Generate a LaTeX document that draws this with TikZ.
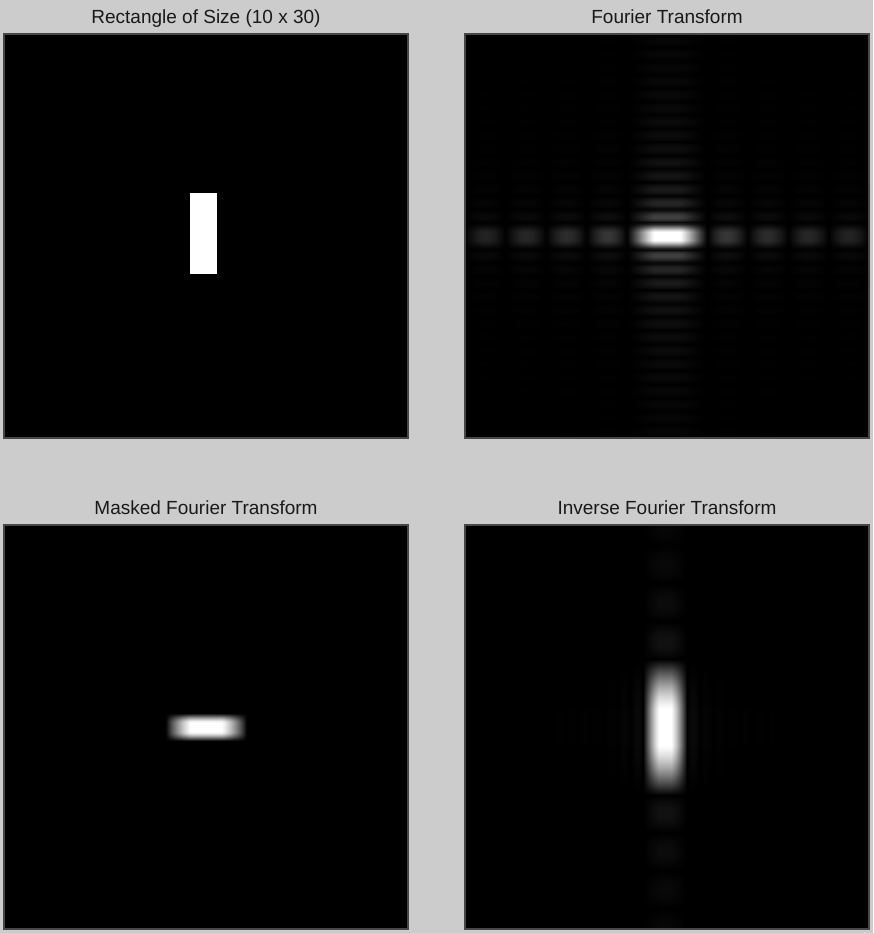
\documentclass[tikz,border=0pt]{standalone}
\usepackage{fontspec}
\setmainfont{Liberation Sans}
\usetikzlibrary{positioning}

\definecolor{figgray}{RGB}{204,204,204}

% brightness profiles along one axis (offset in px from the panel centre)
\tikzset{declare function={
  ftxa(\x)=(\x<1)*min(1,1.2*sin(180*\x)/(pi*\x))+(\x>=1)*abs(sin(180*\x))*0.21*pow(1.5/max(\x,1),0.4);
  ftx(\x)=ftxa(abs(\x)/40.4+0.0001);
  ftya(\x)=(\x<1)*min(1,1.2*sin(180*\x)/(pi*\x))+(\x>=1)*abs(sin(180*\x))*0.25*pow(1.5/max(\x,1),1.05);
  fty(\x)=ftya(abs(\x)/13.47+0.0001);
  mska(\x)=(\x<1)*min(1,1.2*pow(cos(90*min(\x,0.999)),0.9));
  mskx(\x)=mska(abs(\x)/40.4);
  msky(\x)=mska(abs(\x)/13.5);
  invxa(\x)=(\x<22)*min(1,1.1*cos(90*min(\x/22,0.999)))+(\x>=22)*0.055*abs(sin(180/13*(\x-22)))*pow(22/max(\x,22),2);
  invx(\x)=invxa(abs(\x+2));
  invya(\x)=(\x<68)*min(1,1.1*cos(90*min(\x/68,0.999)))+(\x>=68)*0.09*abs(sin(180/38*(\x-68)))*pow(68/max(\x,68),1.2);
  invy(\x)=invya(abs(\x));
}}

% colour stops of a 404px profile, mapped to 25bp..75bp of a 100bp shading
\newcommand\buildprofile[2]{%
  \pgfmathsetmacro\gval{100*#2(-202)}%
  \xdef#1{color(0bp)=(white!\gval!black)}%
  \foreach \k in {0,...,202}{%
    \pgfmathsetmacro\off{2*\k-202}%
    \pgfmathsetmacro\gval{100*#2(\off)}%
    \pgfmathsetmacro\stoppos{25+50*\k/202}%
    \xdef#1{#1; color(\stoppos bp)=(white!\gval!black)}%
  }%
  \pgfmathsetmacro\gval{100*#2(202)}%
  \xdef#1{#1; color(100bp)=(white!\gval!black)}%
}

\buildprofile\specftx{ftx}
\buildprofile\specfty{fty}
\buildprofile\specmskx{mskx}
\buildprofile\specmsky{msky}
\buildprofile\specinvx{invx}
\buildprofile\specinvy{invy}

\edef\tmp{\noexpand\pgfdeclarehorizontalshading{ftcols}{100bp}{\specftx}}\tmp
\edef\tmp{\noexpand\pgfdeclareverticalshading{ftrows}{100bp}{\specfty}}\tmp
\edef\tmp{\noexpand\pgfdeclarehorizontalshading{maskcols}{100bp}{\specmskx}}\tmp
\edef\tmp{\noexpand\pgfdeclareverticalshading{maskrows}{100bp}{\specmsky}}\tmp
\edef\tmp{\noexpand\pgfdeclarehorizontalshading{invcols}{100bp}{\specinvx}}\tmp
\edef\tmp{\noexpand\pgfdeclareverticalshading{invrows}{100bp}{\specinvy}}\tmp

\begin{document}
\begin{tikzpicture}[x=1pt,y=-1pt,
  panel/.style={fill=black,minimum size=404pt,inner sep=0pt,outer sep=0pt},
  frame/.style={draw=black!72,line width=1.1pt},
  title/.style={font=\fontsize{19}{22}\selectfont,text=black!90,inner sep=0pt,text depth=0.25em}]
  \fill[figgray] (0,0) rectangle (873,933);
  \useasboundingbox (0,0) rectangle (873,933);

  % the four panels
  \node[panel] (rect) at (206,236) {};
  \node[panel] (ft)   at (667,236) {};
  \node[panel] (mask) at (206,727) {};
  \node[panel] (inv)  at (667,727) {};

  % 10 x 30 rectangle
  \node[fill=white,minimum width=27pt,minimum height=81pt,inner sep=0pt] (bar) at (203.5,233.5) {};

  % separable images: row profile, column profile multiplied on top
  \foreach \p/\rows/\cols in {ft/ftrows/ftcols,mask/maskrows/maskcols,inv/invrows/invcols}{
    \shade[shading=\rows] (\p.south west) rectangle (\p.north east);
    \begin{scope}[blend mode=multiply]
      \shade[shading=\cols] (\p.south west) rectangle (\p.north east);
    \end{scope}
  }

  \foreach \p in {rect,ft,mask,inv}
    \draw[frame] (\p.south west) rectangle (\p.north east);

  \node[title,above=7.5pt of rect] (trect) {Rectangle of Size (10 x 30)};
  \node[title,above=7.5pt of ft]   (tft)   {Fourier Transform};
  \node[title,above=7.5pt of mask] (tmask) {Masked Fourier Transform};
  \node[title,above=7.5pt of inv]  (tinv)  {Inverse Fourier Transform};
\end{tikzpicture}
\end{document}
